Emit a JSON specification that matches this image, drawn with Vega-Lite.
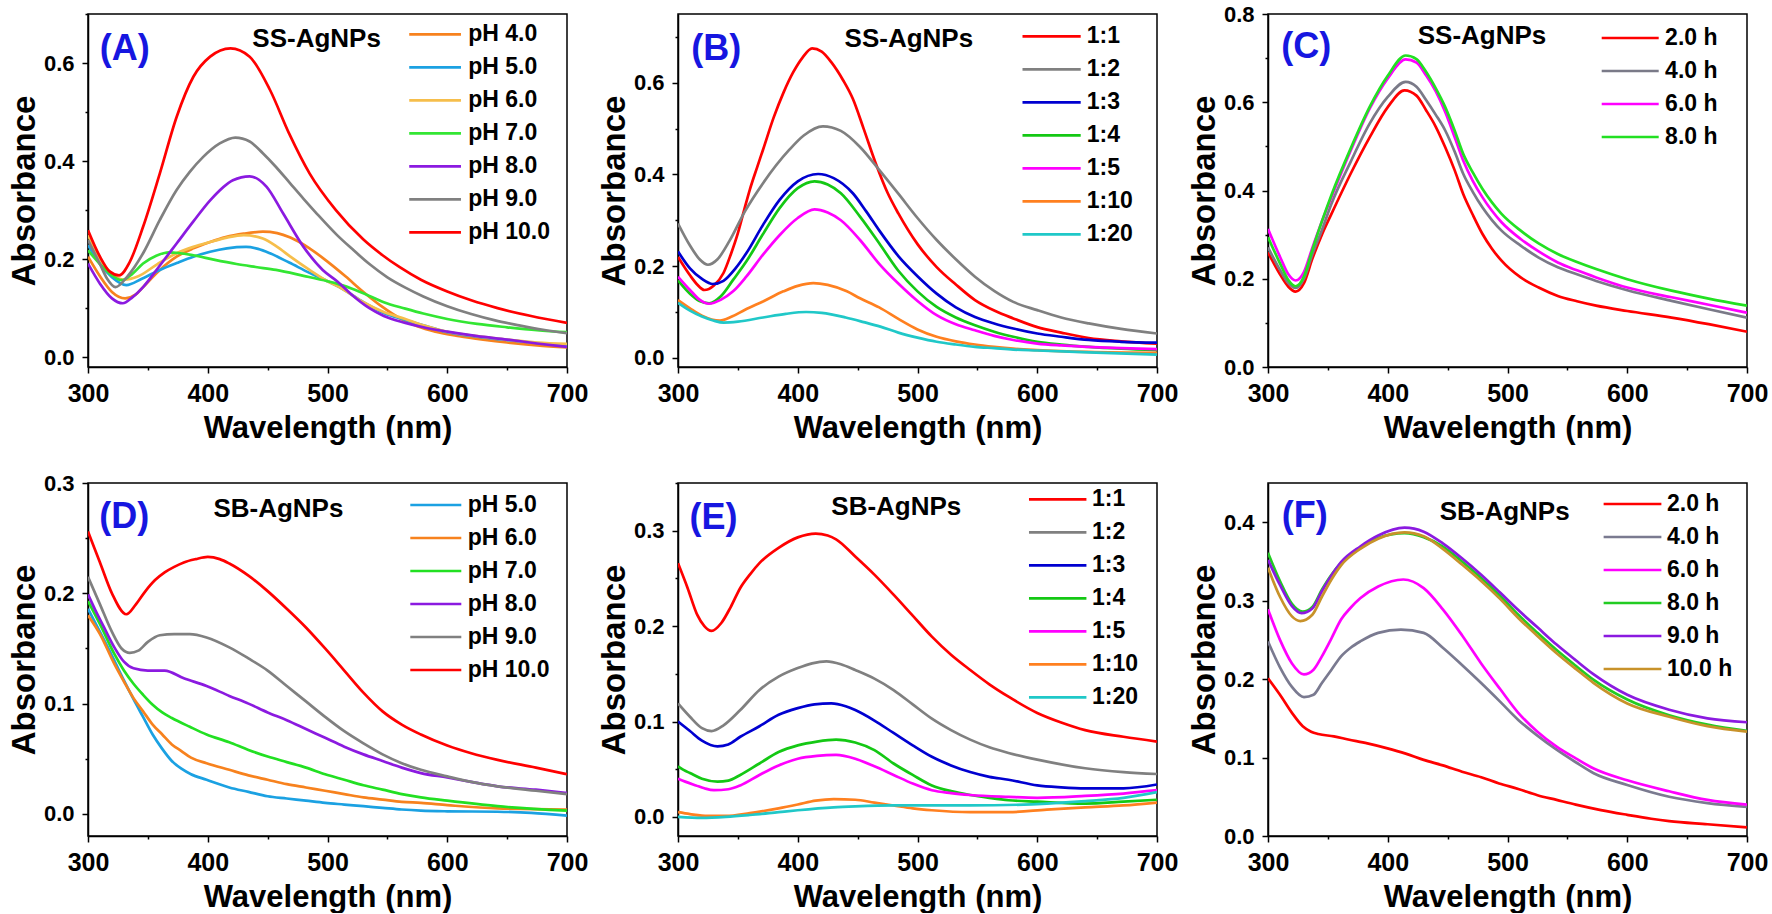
{
  "$schema": "https://vega.github.io/schema/vega-lite/v6.json",
  "background": "white",
  "padding": {"left": 7, "top": 2, "right": 0, "bottom": 0},
  "config": {
    "font": "Liberation Sans",
    "view": {"stroke": "black", "strokeWidth": 1.5},
    "axis": {
      "grid": false, "domainColor": "black", "domainWidth": 1.5,
      "tickColor": "black", "tickWidth": 1.5,
      "labelFont": "Liberation Sans", "labelFontWeight": "bold", "labelColor": "black",
      "titleFont": "Liberation Sans", "titleFontWeight": "bold", "titleColor": "black",
      "labelFlush": false, "labelOverlap": false
    },
    "axisX": {"labelFontSize": 25, "labelPadding": 8, "titleFontSize": 31, "titlePadding": 7},
    "axisY": {"labelFontSize": 22, "labelPadding": 8, "titleFontSize": 33, "titlePadding": 2},
    "legend": {
      "orient": "none", "symbolSize": 225, "symbolStrokeWidth": 3,
      "labelFontSize": 23, "labelFont": "Liberation Sans", "labelFontWeight": "bold",
      "labelColor": "black", "rowPadding": 9, "padding": 0
    },
    "line": {"strokeWidth": 2.7, "interpolate": "monotone"}
  },
  "datasets": {
    "A": [
      {"s":"pH 4.0","w":300,"a":0.205},{"s":"pH 4.0","w":310,"a":0.165},{"s":"pH 4.0","w":320,"a":0.133},{"s":"pH 4.0","w":331,"a":0.12},{"s":"pH 4.0","w":340,"a":0.128},{"s":"pH 4.0","w":346,"a":0.143},{"s":"pH 4.0","w":360,"a":0.178},{"s":"pH 4.0","w":374,"a":0.205},{"s":"pH 4.0","w":388,"a":0.222},{"s":"pH 4.0","w":402,"a":0.235},{"s":"pH 4.0","w":415,"a":0.245},{"s":"pH 4.0","w":430,"a":0.252},{"s":"pH 4.0","w":446,"a":0.256},{"s":"pH 4.0","w":458,"a":0.253},{"s":"pH 4.0","w":469,"a":0.244},{"s":"pH 4.0","w":485,"a":0.222},{"s":"pH 4.0","w":500,"a":0.195},{"s":"pH 4.0","w":515,"a":0.165},{"s":"pH 4.0","w":530,"a":0.133},{"s":"pH 4.0","w":545,"a":0.104},{"s":"pH 4.0","w":560,"a":0.08},{"s":"pH 4.0","w":575,"a":0.063},{"s":"pH 4.0","w":590,"a":0.052},{"s":"pH 4.0","w":610,"a":0.043},{"s":"pH 4.0","w":630,"a":0.036},{"s":"pH 4.0","w":650,"a":0.03},{"s":"pH 4.0","w":675,"a":0.024},{"s":"pH 4.0","w":700,"a":0.02},
      {"s":"pH 5.0","w":300,"a":0.229},{"s":"pH 5.0","w":310,"a":0.19},{"s":"pH 5.0","w":320,"a":0.163},{"s":"pH 5.0","w":332,"a":0.147},{"s":"pH 5.0","w":345,"a":0.16},{"s":"pH 5.0","w":360,"a":0.178},{"s":"pH 5.0","w":374,"a":0.192},{"s":"pH 5.0","w":388,"a":0.205},{"s":"pH 5.0","w":402,"a":0.215},{"s":"pH 5.0","w":416,"a":0.222},{"s":"pH 5.0","w":432,"a":0.225},{"s":"pH 5.0","w":442,"a":0.221},{"s":"pH 5.0","w":452,"a":0.212},{"s":"pH 5.0","w":468,"a":0.193},{"s":"pH 5.0","w":485,"a":0.172},{"s":"pH 5.0","w":500,"a":0.155},{"s":"pH 5.0","w":512,"a":0.14},{"s":"pH 5.0","w":530,"a":0.112},{"s":"pH 5.0","w":547,"a":0.09},{"s":"pH 5.0","w":565,"a":0.076},{"s":"pH 5.0","w":580,"a":0.065},{"s":"pH 5.0","w":600,"a":0.051},{"s":"pH 5.0","w":625,"a":0.042},{"s":"pH 5.0","w":650,"a":0.035},{"s":"pH 5.0","w":675,"a":0.029},{"s":"pH 5.0","w":700,"a":0.024},
      {"s":"pH 6.0","w":300,"a":0.249},{"s":"pH 6.0","w":310,"a":0.2},{"s":"pH 6.0","w":320,"a":0.17},{"s":"pH 6.0","w":330,"a":0.158},{"s":"pH 6.0","w":342,"a":0.165},{"s":"pH 6.0","w":358,"a":0.19},{"s":"pH 6.0","w":374,"a":0.212},{"s":"pH 6.0","w":388,"a":0.225},{"s":"pH 6.0","w":402,"a":0.235},{"s":"pH 6.0","w":416,"a":0.244},{"s":"pH 6.0","w":430,"a":0.249},{"s":"pH 6.0","w":446,"a":0.242},{"s":"pH 6.0","w":458,"a":0.225},{"s":"pH 6.0","w":469,"a":0.205},{"s":"pH 6.0","w":485,"a":0.178},{"s":"pH 6.0","w":500,"a":0.155},{"s":"pH 6.0","w":512,"a":0.14},{"s":"pH 6.0","w":530,"a":0.112},{"s":"pH 6.0","w":547,"a":0.092},{"s":"pH 6.0","w":565,"a":0.078},{"s":"pH 6.0","w":580,"a":0.065},{"s":"pH 6.0","w":600,"a":0.052},{"s":"pH 6.0","w":625,"a":0.043},{"s":"pH 6.0","w":650,"a":0.036},{"s":"pH 6.0","w":675,"a":0.03},{"s":"pH 6.0","w":700,"a":0.027},
      {"s":"pH 7.0","w":300,"a":0.218},{"s":"pH 7.0","w":310,"a":0.19},{"s":"pH 7.0","w":320,"a":0.167},{"s":"pH 7.0","w":328,"a":0.157},{"s":"pH 7.0","w":337,"a":0.17},{"s":"pH 7.0","w":346,"a":0.191},{"s":"pH 7.0","w":357,"a":0.207},{"s":"pH 7.0","w":368,"a":0.214},{"s":"pH 7.0","w":388,"a":0.208},{"s":"pH 7.0","w":405,"a":0.199},{"s":"pH 7.0","w":424,"a":0.19},{"s":"pH 7.0","w":440,"a":0.184},{"s":"pH 7.0","w":457,"a":0.178},{"s":"pH 7.0","w":480,"a":0.166},{"s":"pH 7.0","w":500,"a":0.155},{"s":"pH 7.0","w":508,"a":0.15},{"s":"pH 7.0","w":520,"a":0.14},{"s":"pH 7.0","w":535,"a":0.125},{"s":"pH 7.0","w":547,"a":0.112},{"s":"pH 7.0","w":565,"a":0.099},{"s":"pH 7.0","w":580,"a":0.089},{"s":"pH 7.0","w":600,"a":0.078},{"s":"pH 7.0","w":625,"a":0.068},{"s":"pH 7.0","w":650,"a":0.061},{"s":"pH 7.0","w":675,"a":0.055},{"s":"pH 7.0","w":700,"a":0.051},
      {"s":"pH 8.0","w":300,"a":0.191},{"s":"pH 8.0","w":310,"a":0.15},{"s":"pH 8.0","w":320,"a":0.12},{"s":"pH 8.0","w":329,"a":0.11},{"s":"pH 8.0","w":337,"a":0.122},{"s":"pH 8.0","w":346,"a":0.143},{"s":"pH 8.0","w":360,"a":0.187},{"s":"pH 8.0","w":374,"a":0.232},{"s":"pH 8.0","w":388,"a":0.277},{"s":"pH 8.0","w":402,"a":0.32},{"s":"pH 8.0","w":421,"a":0.361},{"s":"pH 8.0","w":435,"a":0.369},{"s":"pH 8.0","w":449,"a":0.348},{"s":"pH 8.0","w":463,"a":0.293},{"s":"pH 8.0","w":480,"a":0.225},{"s":"pH 8.0","w":496,"a":0.178},{"s":"pH 8.0","w":508,"a":0.155},{"s":"pH 8.0","w":520,"a":0.128},{"s":"pH 8.0","w":535,"a":0.1},{"s":"pH 8.0","w":547,"a":0.084},{"s":"pH 8.0","w":565,"a":0.07},{"s":"pH 8.0","w":580,"a":0.061},{"s":"pH 8.0","w":600,"a":0.052},{"s":"pH 8.0","w":625,"a":0.043},{"s":"pH 8.0","w":650,"a":0.036},{"s":"pH 8.0","w":675,"a":0.028},{"s":"pH 8.0","w":700,"a":0.021},
      {"s":"pH 9.0","w":300,"a":0.239},{"s":"pH 9.0","w":310,"a":0.19},{"s":"pH 9.0","w":316,"a":0.16},{"s":"pH 9.0","w":323,"a":0.143},{"s":"pH 9.0","w":333,"a":0.165},{"s":"pH 9.0","w":346,"a":0.212},{"s":"pH 9.0","w":360,"a":0.28},{"s":"pH 9.0","w":374,"a":0.341},{"s":"pH 9.0","w":385,"a":0.378},{"s":"pH 9.0","w":396,"a":0.408},{"s":"pH 9.0","w":410,"a":0.436},{"s":"pH 9.0","w":423,"a":0.448},{"s":"pH 9.0","w":435,"a":0.44},{"s":"pH 9.0","w":446,"a":0.416},{"s":"pH 9.0","w":457,"a":0.388},{"s":"pH 9.0","w":469,"a":0.354},{"s":"pH 9.0","w":480,"a":0.323},{"s":"pH 9.0","w":491,"a":0.293},{"s":"pH 9.0","w":508,"a":0.249},{"s":"pH 9.0","w":520,"a":0.222},{"s":"pH 9.0","w":535,"a":0.19},{"s":"pH 9.0","w":550,"a":0.163},{"s":"pH 9.0","w":565,"a":0.142},{"s":"pH 9.0","w":580,"a":0.124},{"s":"pH 9.0","w":600,"a":0.104},{"s":"pH 9.0","w":620,"a":0.088},{"s":"pH 9.0","w":640,"a":0.075},{"s":"pH 9.0","w":660,"a":0.065},{"s":"pH 9.0","w":680,"a":0.056},{"s":"pH 9.0","w":700,"a":0.049},
      {"s":"pH 10.0","w":300,"a":0.259},{"s":"pH 10.0","w":310,"a":0.205},{"s":"pH 10.0","w":318,"a":0.175},{"s":"pH 10.0","w":326,"a":0.167},{"s":"pH 10.0","w":335,"a":0.195},{"s":"pH 10.0","w":346,"a":0.266},{"s":"pH 10.0","w":360,"a":0.375},{"s":"pH 10.0","w":374,"a":0.49},{"s":"pH 10.0","w":388,"a":0.572},{"s":"pH 10.0","w":402,"a":0.613},{"s":"pH 10.0","w":419,"a":0.63},{"s":"pH 10.0","w":435,"a":0.613},{"s":"pH 10.0","w":452,"a":0.545},{"s":"pH 10.0","w":468,"a":0.456},{"s":"pH 10.0","w":485,"a":0.375},{"s":"pH 10.0","w":507,"a":0.3},{"s":"pH 10.0","w":530,"a":0.24},{"s":"pH 10.0","w":546,"a":0.208},{"s":"pH 10.0","w":560,"a":0.184},{"s":"pH 10.0","w":578,"a":0.158},{"s":"pH 10.0","w":600,"a":0.134},{"s":"pH 10.0","w":620,"a":0.116},{"s":"pH 10.0","w":642,"a":0.1},{"s":"pH 10.0","w":670,"a":0.084},{"s":"pH 10.0","w":700,"a":0.07}
    ],
    "B": [
      {"s":"1:1","w":300,"a":0.22},{"s":"1:1","w":310,"a":0.18},{"s":"1:1","w":316,"a":0.16},{"s":"1:1","w":322,"a":0.148},{"s":"1:1","w":330,"a":0.158},{"s":"1:1","w":338,"a":0.185},{"s":"1:1","w":344,"a":0.225},{"s":"1:1","w":350,"a":0.272},{"s":"1:1","w":355,"a":0.32},{"s":"1:1","w":360,"a":0.367},{"s":"1:1","w":366,"a":0.415},{"s":"1:1","w":371,"a":0.454},{"s":"1:1","w":380,"a":0.525},{"s":"1:1","w":388,"a":0.578},{"s":"1:1","w":396,"a":0.622},{"s":"1:1","w":404,"a":0.655},{"s":"1:1","w":412,"a":0.675},{"s":"1:1","w":420,"a":0.668},{"s":"1:1","w":428,"a":0.645},{"s":"1:1","w":438,"a":0.605},{"s":"1:1","w":446,"a":0.565},{"s":"1:1","w":455,"a":0.5},{"s":"1:1","w":465,"a":0.425},{"s":"1:1","w":475,"a":0.36},{"s":"1:1","w":484,"a":0.315},{"s":"1:1","w":500,"a":0.248},{"s":"1:1","w":516,"a":0.198},{"s":"1:1","w":532,"a":0.16},{"s":"1:1","w":548,"a":0.126},{"s":"1:1","w":565,"a":0.102},{"s":"1:1","w":580,"a":0.086},{"s":"1:1","w":600,"a":0.067},{"s":"1:1","w":620,"a":0.055},{"s":"1:1","w":643,"a":0.043},{"s":"1:1","w":670,"a":0.036},{"s":"1:1","w":700,"a":0.031},
      {"s":"1:2","w":300,"a":0.293},{"s":"1:2","w":310,"a":0.245},{"s":"1:2","w":318,"a":0.215},{"s":"1:2","w":325,"a":0.203},{"s":"1:2","w":333,"a":0.215},{"s":"1:2","w":343,"a":0.255},{"s":"1:2","w":356,"a":0.32},{"s":"1:2","w":371,"a":0.381},{"s":"1:2","w":393,"a":0.454},{"s":"1:2","w":405,"a":0.485},{"s":"1:2","w":421,"a":0.505},{"s":"1:2","w":436,"a":0.495},{"s":"1:2","w":452,"a":0.46},{"s":"1:2","w":468,"a":0.41},{"s":"1:2","w":484,"a":0.358},{"s":"1:2","w":500,"a":0.305},{"s":"1:2","w":516,"a":0.257},{"s":"1:2","w":532,"a":0.215},{"s":"1:2","w":548,"a":0.177},{"s":"1:2","w":564,"a":0.146},{"s":"1:2","w":580,"a":0.122},{"s":"1:2","w":600,"a":0.104},{"s":"1:2","w":620,"a":0.088},{"s":"1:2","w":643,"a":0.075},{"s":"1:2","w":670,"a":0.063},{"s":"1:2","w":700,"a":0.053},
      {"s":"1:3","w":300,"a":0.232},{"s":"1:3","w":310,"a":0.195},{"s":"1:3","w":320,"a":0.172},{"s":"1:3","w":329,"a":0.161},{"s":"1:3","w":338,"a":0.168},{"s":"1:3","w":348,"a":0.195},{"s":"1:3","w":357,"a":0.228},{"s":"1:3","w":371,"a":0.29},{"s":"1:3","w":385,"a":0.345},{"s":"1:3","w":400,"a":0.385},{"s":"1:3","w":417,"a":0.401},{"s":"1:3","w":430,"a":0.392},{"s":"1:3","w":446,"a":0.359},{"s":"1:3","w":457,"a":0.32},{"s":"1:3","w":468,"a":0.278},{"s":"1:3","w":484,"a":0.222},{"s":"1:3","w":500,"a":0.178},{"s":"1:3","w":516,"a":0.14},{"s":"1:3","w":532,"a":0.11},{"s":"1:3","w":548,"a":0.089},{"s":"1:3","w":564,"a":0.075},{"s":"1:3","w":580,"a":0.064},{"s":"1:3","w":600,"a":0.053},{"s":"1:3","w":620,"a":0.046},{"s":"1:3","w":643,"a":0.039},{"s":"1:3","w":670,"a":0.035},{"s":"1:3","w":700,"a":0.033},
      {"s":"1:4","w":300,"a":0.169},{"s":"1:4","w":310,"a":0.14},{"s":"1:4","w":318,"a":0.124},{"s":"1:4","w":326,"a":0.119},{"s":"1:4","w":336,"a":0.135},{"s":"1:4","w":346,"a":0.17},{"s":"1:4","w":357,"a":0.21},{"s":"1:4","w":371,"a":0.27},{"s":"1:4","w":385,"a":0.327},{"s":"1:4","w":400,"a":0.37},{"s":"1:4","w":414,"a":0.385},{"s":"1:4","w":425,"a":0.378},{"s":"1:4","w":436,"a":0.359},{"s":"1:4","w":452,"a":0.308},{"s":"1:4","w":468,"a":0.25},{"s":"1:4","w":484,"a":0.19},{"s":"1:4","w":500,"a":0.145},{"s":"1:4","w":516,"a":0.111},{"s":"1:4","w":532,"a":0.088},{"s":"1:4","w":548,"a":0.071},{"s":"1:4","w":564,"a":0.057},{"s":"1:4","w":580,"a":0.046},{"s":"1:4","w":600,"a":0.035},{"s":"1:4","w":620,"a":0.029},{"s":"1:4","w":643,"a":0.024},{"s":"1:4","w":670,"a":0.02},{"s":"1:4","w":700,"a":0.017},
      {"s":"1:5","w":300,"a":0.177},{"s":"1:5","w":310,"a":0.148},{"s":"1:5","w":318,"a":0.127},{"s":"1:5","w":326,"a":0.118},{"s":"1:5","w":336,"a":0.127},{"s":"1:5","w":346,"a":0.145},{"s":"1:5","w":357,"a":0.177},{"s":"1:5","w":371,"a":0.225},{"s":"1:5","w":385,"a":0.268},{"s":"1:5","w":400,"a":0.305},{"s":"1:5","w":414,"a":0.324},{"s":"1:5","w":425,"a":0.317},{"s":"1:5","w":436,"a":0.3},{"s":"1:5","w":452,"a":0.257},{"s":"1:5","w":468,"a":0.205},{"s":"1:5","w":484,"a":0.162},{"s":"1:5","w":500,"a":0.124},{"s":"1:5","w":516,"a":0.093},{"s":"1:5","w":532,"a":0.073},{"s":"1:5","w":548,"a":0.06},{"s":"1:5","w":564,"a":0.048},{"s":"1:5","w":580,"a":0.039},{"s":"1:5","w":600,"a":0.031},{"s":"1:5","w":620,"a":0.027},{"s":"1:5","w":643,"a":0.024},{"s":"1:5","w":670,"a":0.021},{"s":"1:5","w":700,"a":0.019},
      {"s":"1:10","w":300,"a":0.126},{"s":"1:10","w":310,"a":0.108},{"s":"1:10","w":320,"a":0.092},{"s":"1:10","w":335,"a":0.081},{"s":"1:10","w":345,"a":0.09},{"s":"1:10","w":356,"a":0.105},{"s":"1:10","w":371,"a":0.123},{"s":"1:10","w":388,"a":0.145},{"s":"1:10","w":400,"a":0.157},{"s":"1:10","w":413,"a":0.163},{"s":"1:10","w":425,"a":0.159},{"s":"1:10","w":441,"a":0.145},{"s":"1:10","w":452,"a":0.13},{"s":"1:10","w":468,"a":0.11},{"s":"1:10","w":484,"a":0.085},{"s":"1:10","w":500,"a":0.062},{"s":"1:10","w":516,"a":0.046},{"s":"1:10","w":532,"a":0.036},{"s":"1:10","w":548,"a":0.029},{"s":"1:10","w":564,"a":0.024},{"s":"1:10","w":580,"a":0.02},{"s":"1:10","w":600,"a":0.017},{"s":"1:10","w":643,"a":0.013},{"s":"1:10","w":700,"a":0.011},
      {"s":"1:20","w":300,"a":0.12},{"s":"1:20","w":310,"a":0.103},{"s":"1:20","w":320,"a":0.09},{"s":"1:20","w":330,"a":0.081},{"s":"1:20","w":338,"a":0.077},{"s":"1:20","w":350,"a":0.079},{"s":"1:20","w":371,"a":0.088},{"s":"1:20","w":390,"a":0.096},{"s":"1:20","w":407,"a":0.1},{"s":"1:20","w":420,"a":0.098},{"s":"1:20","w":440,"a":0.088},{"s":"1:20","w":455,"a":0.078},{"s":"1:20","w":469,"a":0.068},{"s":"1:20","w":484,"a":0.055},{"s":"1:20","w":500,"a":0.044},{"s":"1:20","w":516,"a":0.035},{"s":"1:20","w":532,"a":0.029},{"s":"1:20","w":548,"a":0.024},{"s":"1:20","w":564,"a":0.021},{"s":"1:20","w":580,"a":0.018},{"s":"1:20","w":600,"a":0.016},{"s":"1:20","w":643,"a":0.012},{"s":"1:20","w":700,"a":0.007}
    ],
    "C": [
      {"s":"2.0 h","w":300,"a":0.26},{"s":"2.0 h","w":310,"a":0.21},{"s":"2.0 h","w":317,"a":0.182},{"s":"2.0 h","w":323,"a":0.171},{"s":"2.0 h","w":330,"a":0.19},{"s":"2.0 h","w":337,"a":0.245},{"s":"2.0 h","w":345,"a":0.3},{"s":"2.0 h","w":353,"a":0.347},{"s":"2.0 h","w":369,"a":0.438},{"s":"2.0 h","w":385,"a":0.521},{"s":"2.0 h","w":400,"a":0.589},{"s":"2.0 h","w":414,"a":0.627},{"s":"2.0 h","w":424,"a":0.615},{"s":"2.0 h","w":432,"a":0.582},{"s":"2.0 h","w":440,"a":0.545},{"s":"2.0 h","w":448,"a":0.498},{"s":"2.0 h","w":456,"a":0.445},{"s":"2.0 h","w":463,"a":0.392},{"s":"2.0 h","w":471,"a":0.345},{"s":"2.0 h","w":479,"a":0.302},{"s":"2.0 h","w":487,"a":0.268},{"s":"2.0 h","w":495,"a":0.241},{"s":"2.0 h","w":511,"a":0.203},{"s":"2.0 h","w":526,"a":0.18},{"s":"2.0 h","w":542,"a":0.161},{"s":"2.0 h","w":558,"a":0.149},{"s":"2.0 h","w":574,"a":0.139},{"s":"2.0 h","w":600,"a":0.127},{"s":"2.0 h","w":637,"a":0.112},{"s":"2.0 h","w":668,"a":0.097},{"s":"2.0 h","w":700,"a":0.08},
      {"s":"4.0 h","w":300,"a":0.271},{"s":"4.0 h","w":310,"a":0.22},{"s":"4.0 h","w":317,"a":0.19},{"s":"4.0 h","w":323,"a":0.179},{"s":"4.0 h","w":330,"a":0.2},{"s":"4.0 h","w":337,"a":0.255},{"s":"4.0 h","w":345,"a":0.31},{"s":"4.0 h","w":353,"a":0.37},{"s":"4.0 h","w":369,"a":0.465},{"s":"4.0 h","w":385,"a":0.552},{"s":"4.0 h","w":400,"a":0.612},{"s":"4.0 h","w":415,"a":0.646},{"s":"4.0 h","w":424,"a":0.635},{"s":"4.0 h","w":432,"a":0.605},{"s":"4.0 h","w":440,"a":0.572},{"s":"4.0 h","w":448,"a":0.536},{"s":"4.0 h","w":456,"a":0.487},{"s":"4.0 h","w":463,"a":0.438},{"s":"4.0 h","w":471,"a":0.397},{"s":"4.0 h","w":479,"a":0.362},{"s":"4.0 h","w":487,"a":0.333},{"s":"4.0 h","w":495,"a":0.309},{"s":"4.0 h","w":511,"a":0.275},{"s":"4.0 h","w":526,"a":0.248},{"s":"4.0 h","w":542,"a":0.226},{"s":"4.0 h","w":558,"a":0.21},{"s":"4.0 h","w":574,"a":0.195},{"s":"4.0 h","w":600,"a":0.174},{"s":"4.0 h","w":637,"a":0.15},{"s":"4.0 h","w":668,"a":0.131},{"s":"4.0 h","w":700,"a":0.112},
      {"s":"6.0 h","w":300,"a":0.313},{"s":"6.0 h","w":310,"a":0.25},{"s":"6.0 h","w":317,"a":0.21},{"s":"6.0 h","w":323,"a":0.196},{"s":"6.0 h","w":330,"a":0.215},{"s":"6.0 h","w":337,"a":0.27},{"s":"6.0 h","w":345,"a":0.33},{"s":"6.0 h","w":353,"a":0.385},{"s":"6.0 h","w":369,"a":0.49},{"s":"6.0 h","w":385,"a":0.586},{"s":"6.0 h","w":400,"a":0.654},{"s":"6.0 h","w":415,"a":0.697},{"s":"6.0 h","w":424,"a":0.69},{"s":"6.0 h","w":432,"a":0.661},{"s":"6.0 h","w":440,"a":0.625},{"s":"6.0 h","w":448,"a":0.578},{"s":"6.0 h","w":456,"a":0.52},{"s":"6.0 h","w":463,"a":0.468},{"s":"6.0 h","w":471,"a":0.422},{"s":"6.0 h","w":479,"a":0.385},{"s":"6.0 h","w":487,"a":0.354},{"s":"6.0 h","w":495,"a":0.328},{"s":"6.0 h","w":511,"a":0.29},{"s":"6.0 h","w":526,"a":0.262},{"s":"6.0 h","w":542,"a":0.237},{"s":"6.0 h","w":558,"a":0.219},{"s":"6.0 h","w":574,"a":0.203},{"s":"6.0 h","w":600,"a":0.18},{"s":"6.0 h","w":637,"a":0.158},{"s":"6.0 h","w":668,"a":0.141},{"s":"6.0 h","w":700,"a":0.123},
      {"s":"8.0 h","w":300,"a":0.294},{"s":"8.0 h","w":310,"a":0.235},{"s":"8.0 h","w":317,"a":0.197},{"s":"8.0 h","w":323,"a":0.183},{"s":"8.0 h","w":330,"a":0.205},{"s":"8.0 h","w":337,"a":0.265},{"s":"8.0 h","w":345,"a":0.33},{"s":"8.0 h","w":353,"a":0.39},{"s":"8.0 h","w":369,"a":0.495},{"s":"8.0 h","w":385,"a":0.59},{"s":"8.0 h","w":400,"a":0.66},{"s":"8.0 h","w":415,"a":0.706},{"s":"8.0 h","w":424,"a":0.698},{"s":"8.0 h","w":432,"a":0.669},{"s":"8.0 h","w":440,"a":0.632},{"s":"8.0 h","w":448,"a":0.589},{"s":"8.0 h","w":456,"a":0.535},{"s":"8.0 h","w":463,"a":0.483},{"s":"8.0 h","w":471,"a":0.441},{"s":"8.0 h","w":479,"a":0.404},{"s":"8.0 h","w":487,"a":0.373},{"s":"8.0 h","w":495,"a":0.347},{"s":"8.0 h","w":511,"a":0.309},{"s":"8.0 h","w":526,"a":0.28},{"s":"8.0 h","w":542,"a":0.256},{"s":"8.0 h","w":558,"a":0.238},{"s":"8.0 h","w":574,"a":0.222},{"s":"8.0 h","w":600,"a":0.199},{"s":"8.0 h","w":637,"a":0.173},{"s":"8.0 h","w":668,"a":0.155},{"s":"8.0 h","w":700,"a":0.139}
    ],
    "D": [
      {"s":"pH 5.0","w":300,"a":0.186},{"s":"pH 5.0","w":310,"a":0.165},{"s":"pH 5.0","w":322,"a":0.139},{"s":"pH 5.0","w":330,"a":0.121},{"s":"pH 5.0","w":338,"a":0.104},{"s":"pH 5.0","w":346,"a":0.088},{"s":"pH 5.0","w":354,"a":0.072},{"s":"pH 5.0","w":362,"a":0.059},{"s":"pH 5.0","w":370,"a":0.048},{"s":"pH 5.0","w":378,"a":0.041},{"s":"pH 5.0","w":386,"a":0.036},{"s":"pH 5.0","w":399,"a":0.031},{"s":"pH 5.0","w":418,"a":0.024},{"s":"pH 5.0","w":434,"a":0.02},{"s":"pH 5.0","w":450,"a":0.016},{"s":"pH 5.0","w":466,"a":0.014},{"s":"pH 5.0","w":482,"a":0.012},{"s":"pH 5.0","w":498,"a":0.01},{"s":"pH 5.0","w":514,"a":0.0085},{"s":"pH 5.0","w":530,"a":0.007},{"s":"pH 5.0","w":546,"a":0.0055},{"s":"pH 5.0","w":562,"a":0.004},{"s":"pH 5.0","w":578,"a":0.003},{"s":"pH 5.0","w":600,"a":0.0024},{"s":"pH 5.0","w":642,"a":0.002},{"s":"pH 5.0","w":670,"a":0.001},{"s":"pH 5.0","w":700,"a":-0.0015},
      {"s":"pH 6.0","w":300,"a":0.18},{"s":"pH 6.0","w":310,"a":0.163},{"s":"pH 6.0","w":322,"a":0.136},{"s":"pH 6.0","w":330,"a":0.12},{"s":"pH 6.0","w":338,"a":0.105},{"s":"pH 6.0","w":346,"a":0.093},{"s":"pH 6.0","w":354,"a":0.081},{"s":"pH 6.0","w":362,"a":0.072},{"s":"pH 6.0","w":370,"a":0.063},{"s":"pH 6.0","w":378,"a":0.057},{"s":"pH 6.0","w":386,"a":0.051},{"s":"pH 6.0","w":399,"a":0.046},{"s":"pH 6.0","w":418,"a":0.04},{"s":"pH 6.0","w":434,"a":0.035},{"s":"pH 6.0","w":450,"a":0.031},{"s":"pH 6.0","w":466,"a":0.027},{"s":"pH 6.0","w":482,"a":0.024},{"s":"pH 6.0","w":498,"a":0.021},{"s":"pH 6.0","w":514,"a":0.018},{"s":"pH 6.0","w":530,"a":0.015},{"s":"pH 6.0","w":546,"a":0.013},{"s":"pH 6.0","w":562,"a":0.011},{"s":"pH 6.0","w":578,"a":0.01},{"s":"pH 6.0","w":600,"a":0.008},{"s":"pH 6.0","w":642,"a":0.005},{"s":"pH 6.0","w":700,"a":0.004},
      {"s":"pH 7.0","w":300,"a":0.193},{"s":"pH 7.0","w":310,"a":0.172},{"s":"pH 7.0","w":322,"a":0.145},{"s":"pH 7.0","w":330,"a":0.13},{"s":"pH 7.0","w":338,"a":0.118},{"s":"pH 7.0","w":346,"a":0.108},{"s":"pH 7.0","w":354,"a":0.099},{"s":"pH 7.0","w":362,"a":0.092},{"s":"pH 7.0","w":370,"a":0.087},{"s":"pH 7.0","w":385,"a":0.079},{"s":"pH 7.0","w":399,"a":0.072},{"s":"pH 7.0","w":418,"a":0.065},{"s":"pH 7.0","w":434,"a":0.058},{"s":"pH 7.0","w":450,"a":0.052},{"s":"pH 7.0","w":466,"a":0.047},{"s":"pH 7.0","w":482,"a":0.042},{"s":"pH 7.0","w":498,"a":0.036},{"s":"pH 7.0","w":514,"a":0.031},{"s":"pH 7.0","w":530,"a":0.026},{"s":"pH 7.0","w":546,"a":0.022},{"s":"pH 7.0","w":562,"a":0.018},{"s":"pH 7.0","w":578,"a":0.015},{"s":"pH 7.0","w":600,"a":0.012},{"s":"pH 7.0","w":642,"a":0.007},{"s":"pH 7.0","w":700,"a":0.003},
      {"s":"pH 8.0","w":300,"a":0.199},{"s":"pH 8.0","w":306,"a":0.185},{"s":"pH 8.0","w":313,"a":0.17},{"s":"pH 8.0","w":322,"a":0.151},{"s":"pH 8.0","w":330,"a":0.138},{"s":"pH 8.0","w":338,"a":0.132},{"s":"pH 8.0","w":350,"a":0.13},{"s":"pH 8.0","w":364,"a":0.13},{"s":"pH 8.0","w":380,"a":0.123},{"s":"pH 8.0","w":399,"a":0.116},{"s":"pH 8.0","w":418,"a":0.107},{"s":"pH 8.0","w":434,"a":0.1},{"s":"pH 8.0","w":450,"a":0.092},{"s":"pH 8.0","w":466,"a":0.085},{"s":"pH 8.0","w":482,"a":0.077},{"s":"pH 8.0","w":498,"a":0.069},{"s":"pH 8.0","w":514,"a":0.061},{"s":"pH 8.0","w":530,"a":0.054},{"s":"pH 8.0","w":546,"a":0.048},{"s":"pH 8.0","w":562,"a":0.042},{"s":"pH 8.0","w":578,"a":0.037},{"s":"pH 8.0","w":600,"a":0.033},{"s":"pH 8.0","w":620,"a":0.029},{"s":"pH 8.0","w":642,"a":0.025},{"s":"pH 8.0","w":674,"a":0.022},{"s":"pH 8.0","w":700,"a":0.019},
      {"s":"pH 9.0","w":300,"a":0.215},{"s":"pH 9.0","w":310,"a":0.19},{"s":"pH 9.0","w":320,"a":0.165},{"s":"pH 9.0","w":328,"a":0.15},{"s":"pH 9.0","w":335,"a":0.146},{"s":"pH 9.0","w":342,"a":0.148},{"s":"pH 9.0","w":350,"a":0.156},{"s":"pH 9.0","w":360,"a":0.162},{"s":"pH 9.0","w":372,"a":0.163},{"s":"pH 9.0","w":385,"a":0.163},{"s":"pH 9.0","w":399,"a":0.16},{"s":"pH 9.0","w":418,"a":0.151},{"s":"pH 9.0","w":434,"a":0.141},{"s":"pH 9.0","w":450,"a":0.13},{"s":"pH 9.0","w":466,"a":0.116},{"s":"pH 9.0","w":482,"a":0.102},{"s":"pH 9.0","w":498,"a":0.088},{"s":"pH 9.0","w":514,"a":0.075},{"s":"pH 9.0","w":530,"a":0.064},{"s":"pH 9.0","w":546,"a":0.054},{"s":"pH 9.0","w":562,"a":0.046},{"s":"pH 9.0","w":578,"a":0.04},{"s":"pH 9.0","w":600,"a":0.034},{"s":"pH 9.0","w":620,"a":0.029},{"s":"pH 9.0","w":642,"a":0.025},{"s":"pH 9.0","w":674,"a":0.021},{"s":"pH 9.0","w":700,"a":0.018},
      {"s":"pH 10.0","w":300,"a":0.256},{"s":"pH 10.0","w":310,"a":0.228},{"s":"pH 10.0","w":320,"a":0.2},{"s":"pH 10.0","w":332,"a":0.181},{"s":"pH 10.0","w":340,"a":0.19},{"s":"pH 10.0","w":348,"a":0.202},{"s":"pH 10.0","w":356,"a":0.212},{"s":"pH 10.0","w":364,"a":0.219},{"s":"pH 10.0","w":372,"a":0.224},{"s":"pH 10.0","w":380,"a":0.228},{"s":"pH 10.0","w":390,"a":0.231},{"s":"pH 10.0","w":400,"a":0.233},{"s":"pH 10.0","w":410,"a":0.231},{"s":"pH 10.0","w":418,"a":0.227},{"s":"pH 10.0","w":434,"a":0.216},{"s":"pH 10.0","w":450,"a":0.202},{"s":"pH 10.0","w":466,"a":0.186},{"s":"pH 10.0","w":482,"a":0.169},{"s":"pH 10.0","w":498,"a":0.15},{"s":"pH 10.0","w":514,"a":0.13},{"s":"pH 10.0","w":530,"a":0.11},{"s":"pH 10.0","w":546,"a":0.093},{"s":"pH 10.0","w":562,"a":0.081},{"s":"pH 10.0","w":578,"a":0.072},{"s":"pH 10.0","w":600,"a":0.062},{"s":"pH 10.0","w":620,"a":0.055},{"s":"pH 10.0","w":642,"a":0.049},{"s":"pH 10.0","w":674,"a":0.042},{"s":"pH 10.0","w":700,"a":0.036}
    ],
    "E": [
      {"s":"1:1","w":300,"a":0.266},{"s":"1:1","w":308,"a":0.24},{"s":"1:1","w":316,"a":0.212},{"s":"1:1","w":322,"a":0.2},{"s":"1:1","w":328,"a":0.195},{"s":"1:1","w":336,"a":0.203},{"s":"1:1","w":344,"a":0.22},{"s":"1:1","w":352,"a":0.24},{"s":"1:1","w":360,"a":0.254},{"s":"1:1","w":368,"a":0.266},{"s":"1:1","w":384,"a":0.282},{"s":"1:1","w":400,"a":0.293},{"s":"1:1","w":415,"a":0.297},{"s":"1:1","w":425,"a":0.295},{"s":"1:1","w":432,"a":0.291},{"s":"1:1","w":448,"a":0.273},{"s":"1:1","w":464,"a":0.254},{"s":"1:1","w":480,"a":0.233},{"s":"1:1","w":496,"a":0.211},{"s":"1:1","w":512,"a":0.189},{"s":"1:1","w":528,"a":0.17},{"s":"1:1","w":544,"a":0.154},{"s":"1:1","w":560,"a":0.139},{"s":"1:1","w":576,"a":0.126},{"s":"1:1","w":600,"a":0.109},{"s":"1:1","w":620,"a":0.099},{"s":"1:1","w":640,"a":0.091},{"s":"1:1","w":672,"a":0.084},{"s":"1:1","w":700,"a":0.079},
      {"s":"1:2","w":300,"a":0.119},{"s":"1:2","w":310,"a":0.105},{"s":"1:2","w":320,"a":0.093},{"s":"1:2","w":328,"a":0.09},{"s":"1:2","w":338,"a":0.096},{"s":"1:2","w":352,"a":0.112},{"s":"1:2","w":368,"a":0.133},{"s":"1:2","w":384,"a":0.147},{"s":"1:2","w":400,"a":0.156},{"s":"1:2","w":412,"a":0.161},{"s":"1:2","w":424,"a":0.163},{"s":"1:2","w":436,"a":0.16},{"s":"1:2","w":448,"a":0.154},{"s":"1:2","w":464,"a":0.145},{"s":"1:2","w":480,"a":0.133},{"s":"1:2","w":496,"a":0.118},{"s":"1:2","w":512,"a":0.103},{"s":"1:2","w":528,"a":0.091},{"s":"1:2","w":544,"a":0.081},{"s":"1:2","w":560,"a":0.073},{"s":"1:2","w":576,"a":0.067},{"s":"1:2","w":600,"a":0.06},{"s":"1:2","w":640,"a":0.051},{"s":"1:2","w":672,"a":0.047},{"s":"1:2","w":700,"a":0.045},
      {"s":"1:3","w":300,"a":0.1},{"s":"1:3","w":310,"a":0.09},{"s":"1:3","w":320,"a":0.08},{"s":"1:3","w":333,"a":0.074},{"s":"1:3","w":342,"a":0.076},{"s":"1:3","w":352,"a":0.084},{"s":"1:3","w":368,"a":0.095},{"s":"1:3","w":384,"a":0.107},{"s":"1:3","w":400,"a":0.114},{"s":"1:3","w":414,"a":0.118},{"s":"1:3","w":428,"a":0.119},{"s":"1:3","w":440,"a":0.116},{"s":"1:3","w":448,"a":0.112},{"s":"1:3","w":464,"a":0.101},{"s":"1:3","w":480,"a":0.088},{"s":"1:3","w":496,"a":0.075},{"s":"1:3","w":512,"a":0.063},{"s":"1:3","w":528,"a":0.054},{"s":"1:3","w":544,"a":0.047},{"s":"1:3","w":560,"a":0.042},{"s":"1:3","w":576,"a":0.039},{"s":"1:3","w":600,"a":0.033},{"s":"1:3","w":620,"a":0.031},{"s":"1:3","w":640,"a":0.03},{"s":"1:3","w":672,"a":0.03},{"s":"1:3","w":700,"a":0.034},
      {"s":"1:4","w":300,"a":0.053},{"s":"1:4","w":305,"a":0.049},{"s":"1:4","w":310,"a":0.046},{"s":"1:4","w":320,"a":0.04},{"s":"1:4","w":333,"a":0.037},{"s":"1:4","w":342,"a":0.038},{"s":"1:4","w":352,"a":0.044},{"s":"1:4","w":368,"a":0.056},{"s":"1:4","w":384,"a":0.068},{"s":"1:4","w":400,"a":0.075},{"s":"1:4","w":416,"a":0.079},{"s":"1:4","w":432,"a":0.081},{"s":"1:4","w":448,"a":0.078},{"s":"1:4","w":464,"a":0.07},{"s":"1:4","w":480,"a":0.056},{"s":"1:4","w":496,"a":0.044},{"s":"1:4","w":512,"a":0.033},{"s":"1:4","w":528,"a":0.027},{"s":"1:4","w":544,"a":0.023},{"s":"1:4","w":560,"a":0.02},{"s":"1:4","w":576,"a":0.0175},{"s":"1:4","w":600,"a":0.016},{"s":"1:4","w":640,"a":0.014},{"s":"1:4","w":672,"a":0.016},{"s":"1:4","w":700,"a":0.018},
      {"s":"1:5","w":300,"a":0.04},{"s":"1:5","w":306,"a":0.037},{"s":"1:5","w":315,"a":0.033},{"s":"1:5","w":322,"a":0.03},{"s":"1:5","w":330,"a":0.028},{"s":"1:5","w":342,"a":0.029},{"s":"1:5","w":352,"a":0.033},{"s":"1:5","w":368,"a":0.044},{"s":"1:5","w":384,"a":0.054},{"s":"1:5","w":400,"a":0.061},{"s":"1:5","w":416,"a":0.064},{"s":"1:5","w":432,"a":0.065},{"s":"1:5","w":448,"a":0.061},{"s":"1:5","w":464,"a":0.053},{"s":"1:5","w":480,"a":0.044},{"s":"1:5","w":496,"a":0.035},{"s":"1:5","w":512,"a":0.028},{"s":"1:5","w":528,"a":0.025},{"s":"1:5","w":544,"a":0.023},{"s":"1:5","w":576,"a":0.021},{"s":"1:5","w":600,"a":0.02},{"s":"1:5","w":640,"a":0.022},{"s":"1:5","w":672,"a":0.0245},{"s":"1:5","w":700,"a":0.028},
      {"s":"1:10","w":300,"a":0.005},{"s":"1:10","w":310,"a":0.003},{"s":"1:10","w":325,"a":0.001},{"s":"1:10","w":340,"a":0.001},{"s":"1:10","w":360,"a":0.004},{"s":"1:10","w":384,"a":0.009},{"s":"1:10","w":400,"a":0.013},{"s":"1:10","w":415,"a":0.017},{"s":"1:10","w":430,"a":0.0186},{"s":"1:10","w":448,"a":0.018},{"s":"1:10","w":464,"a":0.015},{"s":"1:10","w":480,"a":0.012},{"s":"1:10","w":496,"a":0.009},{"s":"1:10","w":512,"a":0.007},{"s":"1:10","w":544,"a":0.005},{"s":"1:10","w":576,"a":0.005},{"s":"1:10","w":608,"a":0.0077},{"s":"1:10","w":640,"a":0.01},{"s":"1:10","w":672,"a":0.012},{"s":"1:10","w":700,"a":0.015},
      {"s":"1:20","w":300,"a":0},{"s":"1:20","w":320,"a":-0.001},{"s":"1:20","w":340,"a":0},{"s":"1:20","w":360,"a":0.002},{"s":"1:20","w":384,"a":0.005},{"s":"1:20","w":400,"a":0.007},{"s":"1:20","w":430,"a":0.01},{"s":"1:20","w":448,"a":0.011},{"s":"1:20","w":480,"a":0.012},{"s":"1:20","w":544,"a":0.012},{"s":"1:20","w":608,"a":0.014},{"s":"1:20","w":640,"a":0.0165},{"s":"1:20","w":672,"a":0.02},{"s":"1:20","w":700,"a":0.026}
    ],
    "F": [
      {"s":"2.0 h","w":300,"a":0.201},{"s":"2.0 h","w":310,"a":0.18},{"s":"2.0 h","w":320,"a":0.157},{"s":"2.0 h","w":329,"a":0.14},{"s":"2.0 h","w":336,"a":0.133},{"s":"2.0 h","w":342,"a":0.13},{"s":"2.0 h","w":355,"a":0.127},{"s":"2.0 h","w":367,"a":0.123},{"s":"2.0 h","w":383,"a":0.118},{"s":"2.0 h","w":399,"a":0.112},{"s":"2.0 h","w":415,"a":0.105},{"s":"2.0 h","w":430,"a":0.097},{"s":"2.0 h","w":446,"a":0.09},{"s":"2.0 h","w":462,"a":0.082},{"s":"2.0 h","w":478,"a":0.075},{"s":"2.0 h","w":493,"a":0.067},{"s":"2.0 h","w":509,"a":0.06},{"s":"2.0 h","w":525,"a":0.052},{"s":"2.0 h","w":541,"a":0.046},{"s":"2.0 h","w":557,"a":0.04},{"s":"2.0 h","w":578,"a":0.033},{"s":"2.0 h","w":600,"a":0.027},{"s":"2.0 h","w":620,"a":0.022},{"s":"2.0 h","w":635,"a":0.019},{"s":"2.0 h","w":667,"a":0.015},{"s":"2.0 h","w":700,"a":0.011},
      {"s":"4.0 h","w":300,"a":0.248},{"s":"4.0 h","w":310,"a":0.215},{"s":"4.0 h","w":320,"a":0.19},{"s":"4.0 h","w":330,"a":0.177},{"s":"4.0 h","w":338,"a":0.18},{"s":"4.0 h","w":345,"a":0.195},{"s":"4.0 h","w":353,"a":0.212},{"s":"4.0 h","w":361,"a":0.229},{"s":"4.0 h","w":369,"a":0.24},{"s":"4.0 h","w":377,"a":0.248},{"s":"4.0 h","w":392,"a":0.259},{"s":"4.0 h","w":411,"a":0.263},{"s":"4.0 h","w":430,"a":0.259},{"s":"4.0 h","w":446,"a":0.24},{"s":"4.0 h","w":462,"a":0.218},{"s":"4.0 h","w":478,"a":0.195},{"s":"4.0 h","w":494,"a":0.171},{"s":"4.0 h","w":509,"a":0.148},{"s":"4.0 h","w":525,"a":0.128},{"s":"4.0 h","w":541,"a":0.11},{"s":"4.0 h","w":557,"a":0.094},{"s":"4.0 h","w":572,"a":0.08},{"s":"4.0 h","w":600,"a":0.065},{"s":"4.0 h","w":635,"a":0.05},{"s":"4.0 h","w":667,"a":0.042},{"s":"4.0 h","w":700,"a":0.037},
      {"s":"6.0 h","w":300,"a":0.289},{"s":"6.0 h","w":310,"a":0.25},{"s":"6.0 h","w":320,"a":0.22},{"s":"6.0 h","w":330,"a":0.206},{"s":"6.0 h","w":338,"a":0.212},{"s":"6.0 h","w":345,"a":0.229},{"s":"6.0 h","w":353,"a":0.252},{"s":"6.0 h","w":361,"a":0.276},{"s":"6.0 h","w":369,"a":0.291},{"s":"6.0 h","w":377,"a":0.303},{"s":"6.0 h","w":392,"a":0.318},{"s":"6.0 h","w":413,"a":0.327},{"s":"6.0 h","w":430,"a":0.316},{"s":"6.0 h","w":446,"a":0.289},{"s":"6.0 h","w":462,"a":0.256},{"s":"6.0 h","w":478,"a":0.22},{"s":"6.0 h","w":494,"a":0.187},{"s":"6.0 h","w":509,"a":0.157},{"s":"6.0 h","w":525,"a":0.133},{"s":"6.0 h","w":541,"a":0.114},{"s":"6.0 h","w":557,"a":0.099},{"s":"6.0 h","w":572,"a":0.086},{"s":"6.0 h","w":600,"a":0.071},{"s":"6.0 h","w":635,"a":0.057},{"s":"6.0 h","w":667,"a":0.046},{"s":"6.0 h","w":700,"a":0.04},
      {"s":"8.0 h","w":300,"a":0.361},{"s":"8.0 h","w":310,"a":0.325},{"s":"8.0 h","w":320,"a":0.296},{"s":"8.0 h","w":329,"a":0.286},{"s":"8.0 h","w":337,"a":0.292},{"s":"8.0 h","w":345,"a":0.314},{"s":"8.0 h","w":353,"a":0.333},{"s":"8.0 h","w":361,"a":0.348},{"s":"8.0 h","w":377,"a":0.367},{"s":"8.0 h","w":392,"a":0.38},{"s":"8.0 h","w":414,"a":0.386},{"s":"8.0 h","w":430,"a":0.381},{"s":"8.0 h","w":446,"a":0.369},{"s":"8.0 h","w":462,"a":0.35},{"s":"8.0 h","w":478,"a":0.329},{"s":"8.0 h","w":494,"a":0.306},{"s":"8.0 h","w":509,"a":0.282},{"s":"8.0 h","w":525,"a":0.259},{"s":"8.0 h","w":541,"a":0.237},{"s":"8.0 h","w":557,"a":0.217},{"s":"8.0 h","w":572,"a":0.199},{"s":"8.0 h","w":600,"a":0.174},{"s":"8.0 h","w":635,"a":0.154},{"s":"8.0 h","w":667,"a":0.142},{"s":"8.0 h","w":700,"a":0.134},
      {"s":"9.0 h","w":300,"a":0.352},{"s":"9.0 h","w":310,"a":0.32},{"s":"9.0 h","w":320,"a":0.293},{"s":"9.0 h","w":328,"a":0.284},{"s":"9.0 h","w":337,"a":0.29},{"s":"9.0 h","w":345,"a":0.312},{"s":"9.0 h","w":353,"a":0.332},{"s":"9.0 h","w":361,"a":0.349},{"s":"9.0 h","w":377,"a":0.369},{"s":"9.0 h","w":392,"a":0.383},{"s":"9.0 h","w":414,"a":0.393},{"s":"9.0 h","w":430,"a":0.388},{"s":"9.0 h","w":446,"a":0.373},{"s":"9.0 h","w":462,"a":0.354},{"s":"9.0 h","w":478,"a":0.333},{"s":"9.0 h","w":494,"a":0.31},{"s":"9.0 h","w":509,"a":0.288},{"s":"9.0 h","w":525,"a":0.266},{"s":"9.0 h","w":541,"a":0.244},{"s":"9.0 h","w":557,"a":0.224},{"s":"9.0 h","w":572,"a":0.206},{"s":"9.0 h","w":600,"a":0.18},{"s":"9.0 h","w":635,"a":0.161},{"s":"9.0 h","w":667,"a":0.15},{"s":"9.0 h","w":700,"a":0.145},
      {"s":"10.0 h","w":300,"a":0.342},{"s":"10.0 h","w":310,"a":0.305},{"s":"10.0 h","w":320,"a":0.28},{"s":"10.0 h","w":327,"a":0.274},{"s":"10.0 h","w":337,"a":0.282},{"s":"10.0 h","w":345,"a":0.305},{"s":"10.0 h","w":353,"a":0.327},{"s":"10.0 h","w":361,"a":0.345},{"s":"10.0 h","w":377,"a":0.366},{"s":"10.0 h","w":392,"a":0.379},{"s":"10.0 h","w":414,"a":0.387},{"s":"10.0 h","w":430,"a":0.382},{"s":"10.0 h","w":446,"a":0.366},{"s":"10.0 h","w":462,"a":0.346},{"s":"10.0 h","w":478,"a":0.325},{"s":"10.0 h","w":494,"a":0.302},{"s":"10.0 h","w":509,"a":0.278},{"s":"10.0 h","w":525,"a":0.255},{"s":"10.0 h","w":541,"a":0.233},{"s":"10.0 h","w":557,"a":0.213},{"s":"10.0 h","w":572,"a":0.195},{"s":"10.0 h","w":600,"a":0.169},{"s":"10.0 h","w":635,"a":0.152},{"s":"10.0 h","w":667,"a":0.14},{"s":"10.0 h","w":700,"a":0.133}
    ]
  },
  "columns": 3,
  "spacing": {"row": 116, "column": 111},
  "bounds": "flush",
  "resolve": {"scale": {"color": "independent"}, "legend": {"color": "independent"}},
  "concat": [
    {
      "width": 479, "height": 353,
      "layer": [
        {
          "data": {"name": "A"},
          "mark": {"type": "line", "clip": true},
          "encoding": {
            "x": {"field": "w", "type": "quantitative", "scale": {"domain": [300, 700], "nice": false, "zero": false},
              "axis": {"title": "Wavelength (nm)", "values": [300, 350, 400, 450, 500, 550, 600, 650, 700],
                "labelExpr": "datum.value % 100 == 0 ? datum.label : ''",
                "tickSize": {"condition": {"test": "datum.value % 100 == 0", "value": 6}, "value": 3}}},
            "y": {"field": "a", "type": "quantitative", "scale": {"domain": [-0.02, 0.7], "nice": false, "zero": false},
              "axis": {"title": "Absorbance", "values": [0, 0.1, 0.2, 0.3, 0.4, 0.5, 0.6, 0.7],
                "labelExpr": "abs(round(datum.value * 10)) % 2 == 0 ? format(datum.value, '.1f') : ''",
                "tickSize": {"condition": {"test": "abs(round(datum.value * 10)) % 2 == 0", "value": 6}, "value": 3}}},
            "color": {"field": "s", "type": "nominal",
              "scale": {"domain": ["pH 4.0", "pH 5.0", "pH 6.0", "pH 7.0", "pH 8.0", "pH 9.0", "pH 10.0"],
                "range": ["#f7821e", "#1ba1e2", "#f6be4b", "#33e633", "#8b1ae0", "#808080", "#ff0000"]},
              "legend": {"title": null, "legendX": 335.6, "legendY": 8.8, "symbolType": "M-3.45,0H3.45", "labelOffset": 21.6}}
          }
        },
        {
          "data": {"values": [{"t": "(A)"}]},
          "mark": {"type": "text", "font": "Liberation Sans", "fontSize": 36, "fontWeight": "bold", "color": "#1616e0", "align": "center", "baseline": "alphabetic"},
          "encoding": {"x": {"datum": 330.7}, "y": {"datum": 0.606}, "text": {"field": "t"}}
        },
        {
          "data": {"values": [{"t": "SS-AgNPs"}]},
          "mark": {"type": "text", "font": "Liberation Sans", "fontSize": 26, "fontWeight": "bold", "color": "black", "align": "center", "baseline": "alphabetic"},
          "encoding": {"x": {"datum": 490.9}, "y": {"datum": 0.633}, "text": {"field": "t"}}
        }
      ]
    },
    {
      "width": 479, "height": 353,
      "layer": [
        {
          "data": {"name": "B"},
          "mark": {"type": "line", "clip": true},
          "encoding": {
            "x": {"field": "w", "type": "quantitative", "scale": {"domain": [300, 700], "nice": false, "zero": false},
              "axis": {"title": "Wavelength (nm)", "values": [300, 350, 400, 450, 500, 550, 600, 650, 700],
                "labelExpr": "datum.value % 100 == 0 ? datum.label : ''",
                "tickSize": {"condition": {"test": "datum.value % 100 == 0", "value": 6}, "value": 3}}},
            "y": {"field": "a", "type": "quantitative", "scale": {"domain": [-0.02, 0.75], "nice": false, "zero": false},
              "axis": {"title": "Absorbance", "values": [0, 0.1, 0.2, 0.3, 0.4, 0.5, 0.6, 0.7],
                "labelExpr": "abs(round(datum.value * 10)) % 2 == 0 ? format(datum.value, '.1f') : ''",
                "tickSize": {"condition": {"test": "abs(round(datum.value * 10)) % 2 == 0", "value": 6}, "value": 3}}},
            "color": {"field": "s", "type": "nominal",
              "scale": {"domain": ["1:1", "1:2", "1:3", "1:4", "1:5", "1:10", "1:20"],
                "range": ["#ff0000", "#808080", "#0000d0", "#14c814", "#ff00ff", "#ff8020", "#20c8c8"]},
              "legend": {"title": null, "legendX": 362.1, "legendY": 10.8, "symbolType": "M-3.88,0H3.88", "labelOffset": 23.7}}
          }
        },
        {
          "data": {"values": [{"t": "(B)"}]},
          "mark": {"type": "text", "font": "Liberation Sans", "fontSize": 36, "fontWeight": "bold", "color": "#1616e0", "align": "center", "baseline": "alphabetic"},
          "encoding": {"x": {"datum": 332}, "y": {"datum": 0.65}, "text": {"field": "t"}}
        },
        {
          "data": {"values": [{"t": "SS-AgNPs"}]},
          "mark": {"type": "text", "font": "Liberation Sans", "fontSize": 26, "fontWeight": "bold", "color": "black", "align": "center", "baseline": "alphabetic"},
          "encoding": {"x": {"datum": 492.8}, "y": {"datum": 0.679}, "text": {"field": "t"}}
        }
      ]
    },
    {
      "width": 479, "height": 353,
      "layer": [
        {
          "data": {"name": "C"},
          "mark": {"type": "line", "clip": true},
          "encoding": {
            "x": {"field": "w", "type": "quantitative", "scale": {"domain": [300, 700], "nice": false, "zero": false},
              "axis": {"title": "Wavelength (nm)", "values": [300, 350, 400, 450, 500, 550, 600, 650, 700],
                "labelExpr": "datum.value % 100 == 0 ? datum.label : ''",
                "tickSize": {"condition": {"test": "datum.value % 100 == 0", "value": 6}, "value": 3}}},
            "y": {"field": "a", "type": "quantitative", "scale": {"domain": [0, 0.8], "nice": false, "zero": false},
              "axis": {"title": "Absorbance", "values": [0, 0.1, 0.2, 0.3, 0.4, 0.5, 0.6, 0.7, 0.8],
                "labelExpr": "abs(round(datum.value * 10)) % 2 == 0 ? format(datum.value, '.1f') : ''",
                "tickSize": {"condition": {"test": "abs(round(datum.value * 10)) % 2 == 0", "value": 6}, "value": 3}}},
            "color": {"field": "s", "type": "nominal",
              "scale": {"domain": ["2.0 h", "4.0 h", "6.0 h", "8.0 h"],
                "range": ["#ff0000", "#7a7a88", "#ff00ff", "#22e022"]},
              "legend": {"title": null, "legendX": 350.7, "legendY": 12.5, "symbolType": "M-3.8,0H3.8", "labelOffset": 23.4}}
          }
        },
        {
          "data": {"values": [{"t": "(C)"}]},
          "mark": {"type": "text", "font": "Liberation Sans", "fontSize": 36, "fontWeight": "bold", "color": "#1616e0", "align": "center", "baseline": "alphabetic"},
          "encoding": {"x": {"datum": 332}, "y": {"datum": 0.7}, "text": {"field": "t"}}
        },
        {
          "data": {"values": [{"t": "SS-AgNPs"}]},
          "mark": {"type": "text", "font": "Liberation Sans", "fontSize": 26, "fontWeight": "bold", "color": "black", "align": "center", "baseline": "alphabetic"},
          "encoding": {"x": {"datum": 478.7}, "y": {"datum": 0.732}, "text": {"field": "t"}}
        }
      ]
    },
    {
      "width": 479, "height": 353,
      "layer": [
        {
          "data": {"name": "D"},
          "mark": {"type": "line", "clip": true},
          "encoding": {
            "x": {"field": "w", "type": "quantitative", "scale": {"domain": [300, 700], "nice": false, "zero": false},
              "axis": {"title": "Wavelength (nm)", "values": [300, 350, 400, 450, 500, 550, 600, 650, 700],
                "labelExpr": "datum.value % 100 == 0 ? datum.label : ''",
                "tickSize": {"condition": {"test": "datum.value % 100 == 0", "value": 6}, "value": 3}}},
            "y": {"field": "a", "type": "quantitative", "scale": {"domain": [-0.02, 0.3], "nice": false, "zero": false},
              "axis": {"title": "Absorbance", "values": [0, 0.05, 0.1, 0.15, 0.2, 0.25, 0.3],
                "labelExpr": "abs(round(datum.value * 20)) % 2 == 0 ? format(datum.value, '.1f') : ''",
                "tickSize": {"condition": {"test": "abs(round(datum.value * 20)) % 2 == 0", "value": 6}, "value": 3}}},
            "color": {"field": "s", "type": "nominal",
              "scale": {"domain": ["pH 5.0", "pH 6.0", "pH 7.0", "pH 8.0", "pH 9.0", "pH 10.0"],
                "range": ["#1ba1e2", "#f7821e", "#22e022", "#8b1ae0", "#808080", "#ff0000"]},
              "legend": {"title": null, "legendX": 336.3, "legendY": 10.5, "symbolType": "M-3.4,0H3.4", "labelOffset": 20.4}}
          }
        },
        {
          "data": {"values": [{"t": "(D)"}]},
          "mark": {"type": "text", "font": "Liberation Sans", "fontSize": 36, "fontWeight": "bold", "color": "#1616e0", "align": "center", "baseline": "alphabetic"},
          "encoding": {"x": {"datum": 330.3}, "y": {"datum": 0.2594}, "text": {"field": "t"}}
        },
        {
          "data": {"values": [{"t": "SB-AgNPs"}]},
          "mark": {"type": "text", "font": "Liberation Sans", "fontSize": 26, "fontWeight": "bold", "color": "black", "align": "center", "baseline": "alphabetic"},
          "encoding": {"x": {"datum": 459}, "y": {"datum": 0.269}, "text": {"field": "t"}}
        }
      ]
    },
    {
      "width": 479, "height": 353,
      "layer": [
        {
          "data": {"name": "E"},
          "mark": {"type": "line", "clip": true},
          "encoding": {
            "x": {"field": "w", "type": "quantitative", "scale": {"domain": [300, 700], "nice": false, "zero": false},
              "axis": {"title": "Wavelength (nm)", "values": [300, 350, 400, 450, 500, 550, 600, 650, 700],
                "labelExpr": "datum.value % 100 == 0 ? datum.label : ''",
                "tickSize": {"condition": {"test": "datum.value % 100 == 0", "value": 6}, "value": 3}}},
            "y": {"field": "a", "type": "quantitative", "scale": {"domain": [-0.02, 0.35], "nice": false, "zero": false},
              "axis": {"title": "Absorbance", "values": [0, 0.05, 0.1, 0.15, 0.2, 0.25, 0.3, 0.35],
                "labelExpr": "abs(round(datum.value * 20)) % 2 == 0 ? format(datum.value, '.1f') : ''",
                "tickSize": {"condition": {"test": "abs(round(datum.value * 20)) % 2 == 0", "value": 6}, "value": 3}}},
            "color": {"field": "s", "type": "nominal",
              "scale": {"domain": ["1:1", "1:2", "1:3", "1:4", "1:5", "1:10", "1:20"],
                "range": ["#ff0000", "#808080", "#0000d0", "#14c814", "#ff00ff", "#ff8020", "#20c8c8"]},
              "legend": {"title": null, "legendX": 368.2, "legendY": 4.8, "symbolType": "M-3.83,0H3.83", "labelOffset": 22.8}}
          }
        },
        {
          "data": {"values": [{"t": "(E)"}]},
          "mark": {"type": "text", "font": "Liberation Sans", "fontSize": 36, "fontWeight": "bold", "color": "#1616e0", "align": "center", "baseline": "alphabetic"},
          "encoding": {"x": {"datum": 329.7}, "y": {"datum": 0.302}, "text": {"field": "t"}}
        },
        {
          "data": {"values": [{"t": "SB-AgNPs"}]},
          "mark": {"type": "text", "font": "Liberation Sans", "fontSize": 26, "fontWeight": "bold", "color": "black", "align": "center", "baseline": "alphabetic"},
          "encoding": {"x": {"datum": 482.3}, "y": {"datum": 0.316}, "text": {"field": "t"}}
        }
      ]
    },
    {
      "width": 479, "height": 353,
      "layer": [
        {
          "data": {"name": "F"},
          "mark": {"type": "line", "clip": true},
          "encoding": {
            "x": {"field": "w", "type": "quantitative", "scale": {"domain": [300, 700], "nice": false, "zero": false},
              "axis": {"title": "Wavelength (nm)", "values": [300, 350, 400, 450, 500, 550, 600, 650, 700],
                "labelExpr": "datum.value % 100 == 0 ? datum.label : ''",
                "tickSize": {"condition": {"test": "datum.value % 100 == 0", "value": 6}, "value": 3}}},
            "y": {"field": "a", "type": "quantitative", "scale": {"domain": [0, 0.45], "nice": false, "zero": false},
              "axis": {"title": "Absorbance", "values": [0, 0.05, 0.1, 0.15, 0.2, 0.25, 0.3, 0.35, 0.4, 0.45],
                "labelExpr": "abs(round(datum.value * 20)) % 2 == 0 ? format(datum.value, '.1f') : ''",
                "tickSize": {"condition": {"test": "abs(round(datum.value * 20)) % 2 == 0", "value": 6}, "value": 3}}},
            "color": {"field": "s", "type": "nominal",
              "scale": {"domain": ["2.0 h", "4.0 h", "6.0 h", "8.0 h", "9.0 h", "10.0 h"],
                "range": ["#ff0000", "#7a7a90", "#ff00ff", "#22cc22", "#8b1ae0", "#c8922a"]},
              "legend": {"title": null, "legendX": 353, "legendY": 9.5, "symbolType": "M-3.85,0H3.85", "labelOffset": 23}}
          }
        },
        {
          "data": {"values": [{"t": "(F)"}]},
          "mark": {"type": "text", "font": "Liberation Sans", "fontSize": 36, "fontWeight": "bold", "color": "#1616e0", "align": "center", "baseline": "alphabetic"},
          "encoding": {"x": {"datum": 330.7}, "y": {"datum": 0.394}, "text": {"field": "t"}}
        },
        {
          "data": {"values": [{"t": "SB-AgNPs"}]},
          "mark": {"type": "text", "font": "Liberation Sans", "fontSize": 26, "fontWeight": "bold", "color": "black", "align": "center", "baseline": "alphabetic"},
          "encoding": {"x": {"datum": 497.6}, "y": {"datum": 0.4034}, "text": {"field": "t"}}
        }
      ]
    }
  ]
}
